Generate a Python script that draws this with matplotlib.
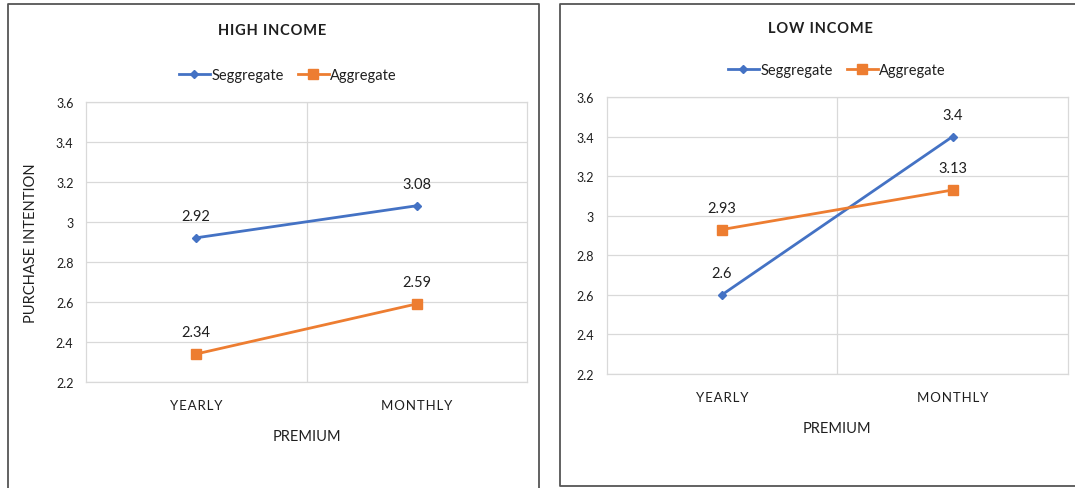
import numpy as np
from matplotlib import pyplot as plt
from matplotlib.lines import Line2D

plt.rcParams["font.family"] = ["Lato", "DejaVu Sans"]

premium = ["YEARLY", "MONTHLY"]
high_seg = [2.92, 3.08]
high_agg = [2.34, 2.59]
low_seg = [2.6, 3.4]
low_agg = [2.93, 3.13]
yticks = [2.2, 2.4, 2.6, 2.8, 3.0, 3.2, 3.4, 3.6]

blue = "#4472C4"
orange = "#ED7D31"
grid = "#d9d9d9"
txt = "#1f1f1f"


def spaced(s):
    # hair spaces to widen the letter spacing
    return "\u200a".join(s)


def panel(ax, seg, agg):
    x = np.arange(len(premium))
    ax.plot(x, seg, "-D", color=blue, lw=2, ms=4.5, zorder=3)
    ax.plot(x, agg, "-s", color=orange, lw=2, ms=6.5, zorder=3)
    for xi, v in zip(x, seg):
        ax.annotate(f"{v:g}", (xi, v), xytext=(0, 15.5), textcoords="offset points",
                    ha="center", va="center", fontsize=10.5, color=txt)
    for xi, v in zip(x, agg):
        ax.annotate(f"{v:g}", (xi, v), xytext=(0, 15.5), textcoords="offset points",
                    ha="center", va="center", fontsize=10.5, color=txt)
    ax.set_xlim(-0.5, 1.5)
    ax.set_ylim(2.2, 3.6)
    ax.set_yticks(yticks)
    ax.set_yticklabels([f"{t:g}" for t in yticks])
    ax.set_xticks(x)
    ax.set_xticklabels([spaced(p) for p in premium], fontsize=9.5)
    ax.tick_params(axis="y", length=0, pad=9, labelsize=9, labelcolor=txt)
    ax.tick_params(axis="x", length=0, pad=12, labelcolor=txt)
    for yv in yticks:
        ax.axhline(yv, color=grid, lw=0.9, zorder=1)
    ax.axvline(0.5, color=grid, lw=0.9, zorder=1)
    for sp in ax.spines.values():
        sp.set_color(grid)
        sp.set_linewidth(0.9)
    ax.set_xlabel("PREMIUM", fontsize=10.5, color=txt, labelpad=13)


fig = plt.figure(figsize=(10.75, 4.89), dpi=100)
W, H = 1075, 489

ax1 = fig.add_axes([86 / W, 1 - 383 / H, 441 / W, 280.4 / H])
panel(ax1, high_seg, high_agg)
ax1.set_ylabel("PURCHASE INTENTION", fontsize=10.5, color=txt, labelpad=13)

ax2 = fig.add_axes([606.5 / W, 1 - 375 / H, 461.5 / W, 277 / H])
panel(ax2, low_seg, low_agg)

# titles
fig.text(272.5 / W, 1 - 31 / H, spaced("HIGH INCOME"), ha="center", va="center",
         fontsize=10.5, fontweight="bold", color=txt)
fig.text(820.5 / W, 1 - 29 / H, spaced("LOW INCOME"), ha="center", va="center",
         fontsize=10.5, fontweight="bold", color=txt)

# legends
handles = [Line2D([], [], color=blue, lw=2, marker="D", ms=4.5),
           Line2D([], [], color=orange, lw=2, marker="s", ms=6.5)]
names = ["Seggregate", "Aggregate"]
for cx, cy in [(288, 76), (837, 71)]:
    fig.legend(handles, names, loc="center", bbox_to_anchor=(cx / W, 1 - cy / H),
               ncol=2, frameon=False, fontsize=10.5, handlelength=2.1,
               handletextpad=0.1, columnspacing=1.0, labelcolor=txt)

# chart borders
bc = "#555555"
fig.add_artist(Line2D([8 / W, 8 / W, 539 / W, 539 / W], [0, 1 - 5 / H, 1 - 5 / H, 0],
                      color=bc, lw=1.3, transform=fig.transFigure))
fig.add_artist(Line2D([1, 560 / W, 560 / W, 1], [1 - 5 / H, 1 - 5 / H, 1 - 487 / H, 1 - 487 / H],
                      color=bc, lw=1.3, transform=fig.transFigure))

plt.savefig("out.png", dpi=100)
